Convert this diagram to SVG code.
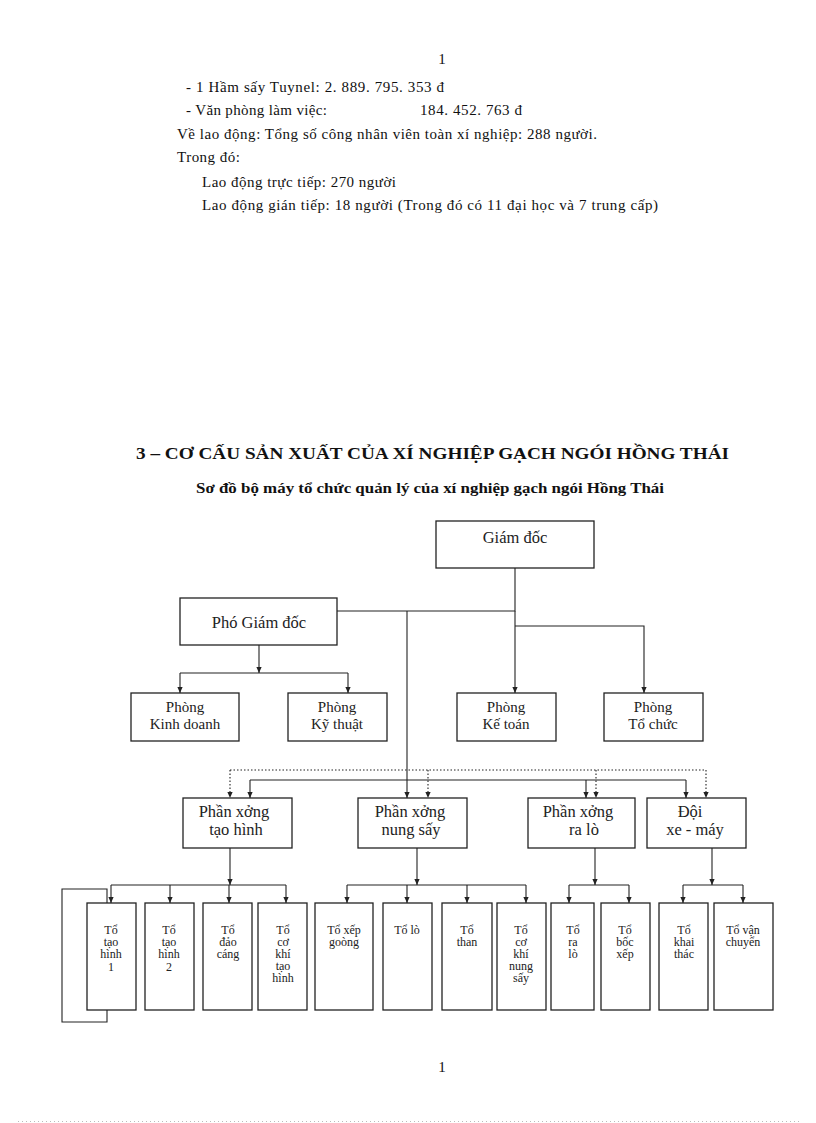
<svg xmlns="http://www.w3.org/2000/svg" width="816" height="1123" viewBox="0 0 816 1123">
<style>
.t{font-family:"Liberation Serif","Times New Roman",serif;font-size:15px;fill:#111}
.h{font-family:"Liberation Serif","Times New Roman",serif;font-weight:bold;fill:#111}
.box{fill:#fff;stroke:#222;stroke-width:1.3}
.lb{font-family:"Liberation Serif","Times New Roman",serif;font-size:16.5px;fill:#222;text-anchor:middle}
.l2{font-family:"Liberation Serif","Times New Roman",serif;font-size:15px;fill:#222;text-anchor:middle}
.sm{font-family:"Liberation Serif","Times New Roman",serif;font-size:12px;fill:#222;text-anchor:middle}
.ln{fill:none;stroke:#222;stroke-width:1.1}
.dt{fill:none;stroke:#222;stroke-width:1.1;stroke-dasharray:1.5 2}
</style>
<defs>
<marker id="ar" viewBox="0 0 8 8" refX="8" refY="4" markerWidth="6" markerHeight="6" markerUnits="userSpaceOnUse" orient="auto">
<path d="M0,0.5 L8,4 L0,7.5 z" fill="#222"/>
</marker>
</defs>
<rect width="816" height="1123" fill="#fff"/>
<g id="page-text">
<text class="t" x="442" y="64" text-anchor="middle">1</text>
<text class="t" x="186" y="92" textLength="258" lengthAdjust="spacing">- 1 Hầm sấy Tuynel:  2. 889. 795. 353 đ</text>
<text class="t" x="186" y="115" textLength="141" lengthAdjust="spacing">- Văn phòng làm việc:</text>
<text class="t" x="420" y="115" textLength="102" lengthAdjust="spacing">184. 452. 763 đ</text>
<text class="t" x="177" y="139" textLength="420" lengthAdjust="spacing">Về lao động: Tổng số công nhân viên toàn xí nghiệp:  288 người.</text>
<text class="t" x="177" y="162" textLength="63" lengthAdjust="spacing">Trong  đó:</text>
<text class="t" x="202" y="187" textLength="194" lengthAdjust="spacing">Lao động trực tiếp: 270 người</text>
<text class="t" x="202" y="210" textLength="456" lengthAdjust="spacing">Lao động gián tiếp: 18 người  (Trong đó có 11 đại học và 7 trung  cấp)</text>
<text class="h" x="136" y="459" font-size="17" textLength="593" lengthAdjust="spacingAndGlyphs">3 – CƠ CẤU SẢN XUẤT  CỦA XÍ NGHIỆP GẠCH NGÓI HỒNG THÁI</text>
<text class="h" x="196" y="493" font-size="14" textLength="468" lengthAdjust="spacingAndGlyphs">Sơ đồ bộ máy tổ chức quản lý của xí nghiệp gạch ngói Hồng Thái</text>
<text class="t" x="442" y="1072" text-anchor="middle">1</text>
<line x1="18" y1="1121.5" x2="800" y2="1121.5" stroke="#bbb" stroke-width="1" stroke-dasharray="1 3"/>
</g>
<g id="connectors">
<path class="ln" d="M515,568 V611 H337"/>
<path class="ln" d="M515,611 V693" marker-end="url(#ar)"/>
<path class="ln" d="M515,626 H644 V693" marker-end="url(#ar)"/>
<path class="ln" d="M407,611 V798" marker-end="url(#ar)"/>
<path class="ln" d="M259,645 V673" marker-end="url(#ar)"/>
<path class="ln" d="M180,673 H348"/>
<path class="ln" d="M180,673 V693" marker-end="url(#ar)"/>
<path class="ln" d="M348,673 V693" marker-end="url(#ar)"/>
<path class="dt" d="M230,770 H706"/>
<path class="dt" d="M230,770 V798" marker-end="url(#ar)"/>
<path class="dt" d="M428,770 V798" marker-end="url(#ar)"/>
<path class="dt" d="M596,770 V798" marker-end="url(#ar)"/>
<path class="dt" d="M706,770 V798" marker-end="url(#ar)"/>
<path class="ln" d="M250,780 H686"/>
<path class="ln" d="M250,780 V798" marker-end="url(#ar)"/>
<path class="ln" d="M586,780 V798" marker-end="url(#ar)"/>
<path class="ln" d="M686,780 V798" marker-end="url(#ar)"/>
<path class="ln" d="M230,848 V885" marker-end="url(#ar)"/>
<path class="ln" d="M111,885 H286"/>
<path class="ln" d="M111,885 V903" marker-end="url(#ar)"/>
<path class="ln" d="M170,885 V903" marker-end="url(#ar)"/>
<path class="ln" d="M229,885 V903" marker-end="url(#ar)"/>
<path class="ln" d="M286,885 V903" marker-end="url(#ar)"/>
<path class="ln" d="M107,903 V889 H62 V1022 H107 V1010"/>
<path class="ln" d="M417,848 V885" marker-end="url(#ar)"/>
<path class="ln" d="M347,885 H526"/>
<path class="ln" d="M347,885 V903" marker-end="url(#ar)"/>
<path class="ln" d="M407,885 V903" marker-end="url(#ar)"/>
<path class="ln" d="M467,885 V903" marker-end="url(#ar)"/>
<path class="ln" d="M526,885 V903" marker-end="url(#ar)"/>
<path class="ln" d="M595,848 V885" marker-end="url(#ar)"/>
<path class="ln" d="M569,885 H629"/>
<path class="ln" d="M569,885 V903" marker-end="url(#ar)"/>
<path class="ln" d="M629,885 V903" marker-end="url(#ar)"/>
<path class="ln" d="M712,848 V885" marker-end="url(#ar)"/>
<path class="ln" d="M683,885 H743"/>
<path class="ln" d="M683,885 V903" marker-end="url(#ar)"/>
<path class="ln" d="M743,885 V903" marker-end="url(#ar)"/>
</g>
<g id="giam-doc"><rect class="box" x="436" y="521" width="158" height="47"/><text class="lb" x="515" y="543" font-size="17.5">Giám đốc</text></g>
<g id="pho-giam-doc"><rect class="box" x="180" y="598" width="157" height="47"/><text class="lb" x="259" y="628" font-size="17.5">Phó Giám đốc</text></g>
<g id="phong-kinh-doanh"><rect class="box" x="131" y="693" width="108" height="48"/><text class="l2" x="185" y="712">Phòng</text><text class="l2" x="185" y="729">Kinh doanh</text></g>
<g id="phong-ky-thuat"><rect class="box" x="288" y="693" width="99" height="48"/><text class="l2" x="337" y="712">Phòng</text><text class="l2" x="337" y="729">Kỹ thuật</text></g>
<g id="phong-ke-toan"><rect class="box" x="457" y="693" width="99" height="48"/><text class="l2" x="506" y="712">Phòng</text><text class="l2" x="506" y="729">Kế toán</text></g>
<g id="phong-to-chuc"><rect class="box" x="604" y="693" width="99" height="48"/><text class="l2" x="653" y="712">Phòng</text><text class="l2" x="653" y="729">Tổ chức</text></g>
<g id="px-tao-hinh"><rect class="box" x="183" y="798" width="109" height="50"/><text class="lb" x="234" y="817">Phần xởng</text><text class="lb" x="236" y="835">tạo hình</text></g>
<g id="px-nung-say"><rect class="box" x="358" y="798" width="109" height="50"/><text class="lb" x="410" y="817">Phần xởng</text><text class="lb" x="411" y="835">nung sấy</text></g>
<g id="px-ra-lo"><rect class="box" x="528" y="798" width="107" height="50"/><text class="lb" x="578" y="817">Phần xởng</text><text class="lb" x="584" y="835">ra lò</text></g>
<g id="doi-xe-may"><rect class="box" x="647" y="798" width="99" height="50"/><text class="lb" x="690" y="817">Đội</text><text class="lb" x="695" y="835">xe - máy</text></g>
<g id="to-tao-hinh-1"><rect class="box" x="87" y="903" width="49" height="107"/><text class="sm" x="111" y="934">Tổ</text><text class="sm" x="111" y="946">tạo</text><text class="sm" x="111" y="958">hình</text><text class="sm" x="111" y="971">1</text></g>
<g id="to-tao-hinh-2"><rect class="box" x="145" y="903" width="49" height="107"/><text class="sm" x="169" y="934">Tổ</text><text class="sm" x="169" y="946">tạo</text><text class="sm" x="169" y="958">hình</text><text class="sm" x="169" y="971">2</text></g>
<g id="to-dao-cang"><rect class="box" x="203" y="903" width="49" height="107"/><text class="sm" x="228" y="934">Tổ</text><text class="sm" x="228" y="946">đảo</text><text class="sm" x="228" y="958">cáng</text></g>
<g id="to-co-khi-tao-hinh"><rect class="box" x="258" y="903" width="49" height="107"/><text class="sm" x="283" y="934">Tổ</text><text class="sm" x="283" y="946">cơ</text><text class="sm" x="283" y="958">khí</text><text class="sm" x="283" y="970">tạo</text><text class="sm" x="283" y="982">hình</text></g>
<g id="to-xep-goong"><rect class="box" x="315" y="903" width="58" height="107"/><text class="sm" x="344" y="934">Tổ xếp</text><text class="sm" x="344" y="946">goòng</text></g>
<g id="to-lo"><rect class="box" x="383" y="903" width="49" height="107"/><text class="sm" x="407" y="934">Tổ lò</text></g>
<g id="to-than"><rect class="box" x="442" y="903" width="50" height="107"/><text class="sm" x="467" y="934">Tổ</text><text class="sm" x="467" y="946">than</text></g>
<g id="to-co-khi-nung-say"><rect class="box" x="497" y="903" width="49" height="107"/><text class="sm" x="521" y="934">Tổ</text><text class="sm" x="521" y="946">cơ</text><text class="sm" x="521" y="958">khí</text><text class="sm" x="521" y="970">nung</text><text class="sm" x="521" y="982">sấy</text></g>
<g id="to-ra-lo"><rect class="box" x="551" y="903" width="43" height="107"/><text class="sm" x="573" y="934">Tổ</text><text class="sm" x="573" y="946">ra</text><text class="sm" x="573" y="958">lò</text></g>
<g id="to-boc-xep"><rect class="box" x="601" y="903" width="49" height="107"/><text class="sm" x="625" y="934">Tổ</text><text class="sm" x="625" y="946">bốc</text><text class="sm" x="625" y="958">xếp</text></g>
<g id="to-khai-thac"><rect class="box" x="659" y="903" width="49" height="107"/><text class="sm" x="684" y="934">Tổ</text><text class="sm" x="684" y="946">khai</text><text class="sm" x="684" y="958">thác</text></g>
<g id="to-van-chuyen"><rect class="box" x="714" y="903" width="59" height="107"/><text class="sm" x="743" y="934">Tổ vận</text><text class="sm" x="743" y="946">chuyển</text></g>
</svg>
